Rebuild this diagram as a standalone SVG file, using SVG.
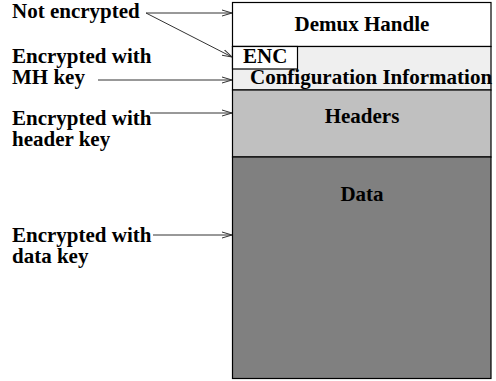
<svg xmlns="http://www.w3.org/2000/svg" width="496" height="381" viewBox="0 0 496 381">
  <defs>
    <marker id="arrow" viewBox="0 0 10 8" refX="10" refY="4" markerWidth="10" markerHeight="8" markerUnits="userSpaceOnUse" orient="auto">
      <path d="M0,1 L10,4 L0,7" fill="none" stroke="#333" stroke-width="1"/>
    </marker>
  </defs>
  <style>
    text { font-family: "Liberation Serif", "Times New Roman", serif; font-weight: bold; font-size: 21px; fill: #000; }
    .mid { text-anchor: middle; }
    .seg { stroke: #000; stroke-width: 1.2; }
    .conn { fill: none; stroke: #333; stroke-width: 1; marker-end: url(#arrow); }
  </style>
  <rect width="496" height="381" fill="#fff"/>

  <!-- stacked packet layout -->
  <g id="demux-handle">
    <rect class="seg" x="232.5" y="2.5" width="258.5" height="44" fill="#ffffff"/>
    <text class="mid" x="362" y="31">Demux Handle</text>
  </g>
  <g id="config-info">
    <rect class="seg" x="232.5" y="46.5" width="258.5" height="43.5" fill="#efefef"/>
    <text x="250" y="84">Configuration Information</text>
  </g>
  <g id="enc">
    <rect class="seg" x="232.5" y="46.5" width="65" height="22.5" fill="#ffffff"/>
    <text x="243" y="63">ENC</text>
  </g>
  <g id="headers">
    <rect class="seg" x="232.5" y="90" width="258.5" height="67" fill="#c0c0c0"/>
    <text class="mid" x="362" y="123">Headers</text>
  </g>
  <g id="data">
    <rect class="seg" x="232.5" y="157" width="258.5" height="221.5" fill="#808080"/>
    <text class="mid" x="362" y="201">Data</text>
  </g>

  <!-- side labels, two lines each -->
  <g id="label-not-encrypted">
    <text x="12" y="18">Not encrypted</text>
  </g>
  <g id="label-mh-key">
    <text x="12" y="63">Encrypted with<tspan x="12" dy="21">MH key</tspan></text>
  </g>
  <g id="label-header-key">
    <text x="12" y="125">Encrypted with<tspan x="12" dy="21">header key</tspan></text>
  </g>
  <g id="label-data-key">
    <text x="12" y="242">Encrypted with<tspan x="12" dy="21">data key</tspan></text>
  </g>

  <!-- connectors -->
  <g id="connectors">
    <line class="conn" x1="146" y1="13" x2="232" y2="13"/>
    <line class="conn" x1="146" y1="13" x2="232" y2="57"/>
    <line class="conn" x1="98" y1="80" x2="232" y2="80"/>
    <line class="conn" x1="150" y1="113" x2="232" y2="113"/>
    <line class="conn" x1="153" y1="235" x2="232" y2="235"/>
  </g>
</svg>
